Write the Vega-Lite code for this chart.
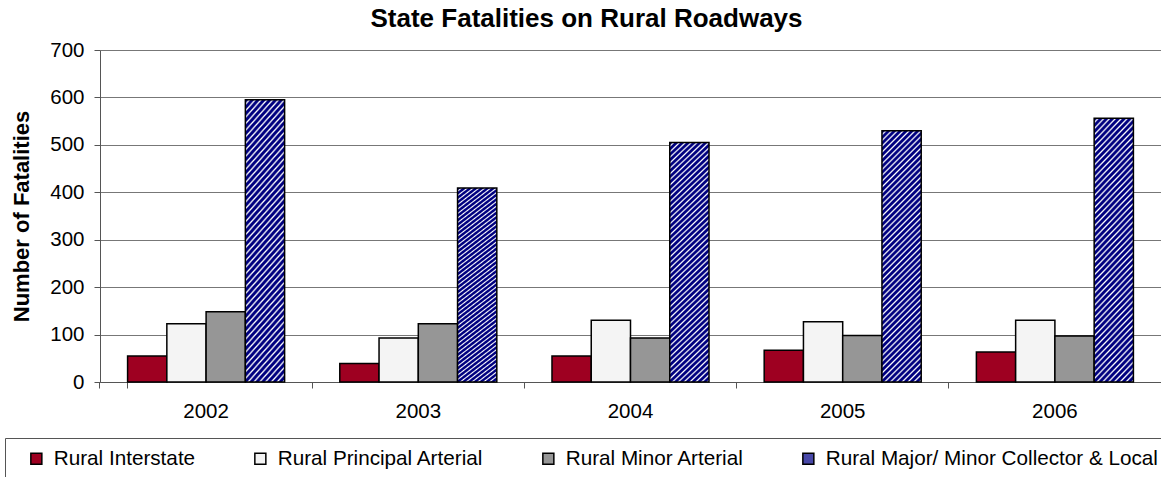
{
  "$schema": "https://vega.github.io/schema/vega-lite/v6.json",
  "width": 1061,
  "height": 332,
  "autosize": {"type": "none"},
  "padding": {"left": 100, "top": 50, "right": 0, "bottom": 95},
  "background": "white",
  "title": {"text": "State Fatalities on Rural Roadways", "font": "Liberation Sans", "fontSize": 26, "fontWeight": "bold", "color": "black", "offset": 8, "dx": -44},
  "data": {"values": [
    {"year": "2002", "type": "Rural Interstate", "value": 55},
    {"year": "2002", "type": "Rural Principal Arterial", "value": 123},
    {"year": "2002", "type": "Rural Minor Arterial", "value": 148},
    {"year": "2002", "type": "Rural Major/ Minor Collector & Local", "value": 595},
    {"year": "2003", "type": "Rural Interstate", "value": 39},
    {"year": "2003", "type": "Rural Principal Arterial", "value": 93},
    {"year": "2003", "type": "Rural Minor Arterial", "value": 123},
    {"year": "2003", "type": "Rural Major/ Minor Collector & Local", "value": 409},
    {"year": "2004", "type": "Rural Interstate", "value": 55},
    {"year": "2004", "type": "Rural Principal Arterial", "value": 130},
    {"year": "2004", "type": "Rural Minor Arterial", "value": 93},
    {"year": "2004", "type": "Rural Major/ Minor Collector & Local", "value": 505},
    {"year": "2005", "type": "Rural Interstate", "value": 67},
    {"year": "2005", "type": "Rural Principal Arterial", "value": 127},
    {"year": "2005", "type": "Rural Minor Arterial", "value": 98},
    {"year": "2005", "type": "Rural Major/ Minor Collector & Local", "value": 530},
    {"year": "2006", "type": "Rural Interstate", "value": 63},
    {"year": "2006", "type": "Rural Principal Arterial", "value": 130},
    {"year": "2006", "type": "Rural Minor Arterial", "value": 97},
    {"year": "2006", "type": "Rural Major/ Minor Collector & Local", "value": 556}
  ]},
  "mark": {"type": "bar", "stroke": "black", "strokeWidth": 1.5},
  "encoding": {
    "x": {"field": "year", "type": "nominal", "scale": {"paddingInner": 0.26, "paddingOuter": 0.13},
      "axis": {"title": null, "labelAngle": 0, "bandPosition": -0.176, "tickExtra": true, "tickSize": 6, "labelPadding": 13, "labelFontSize": 20.5, "labelFont": "Liberation Sans", "labelColor": "black", "domainColor": "#555555", "tickColor": "#555555"}},
    "xOffset": {"field": "type", "type": "nominal", "scale": {"domain": ["Rural Interstate", "Rural Principal Arterial", "Rural Minor Arterial", "Rural Major/ Minor Collector & Local"], "paddingInner": 0, "paddingOuter": 0}},
    "y": {"field": "value", "type": "quantitative", "scale": {"domain": [0, 700], "nice": false},
      "axis": {"title": "Number of Fatalities", "values": [0, 100, 200, 300, 400, 500, 600, 700], "grid": true, "gridColor": "#777777", "domainColor": "#555555", "tickColor": "#555555", "tickSize": 6, "labelPadding": 10, "labelFontSize": 20.5, "labelFont": "Liberation Sans", "labelColor": "black", "titleFont": "Liberation Sans", "titleFontSize": 22, "titleFontWeight": "bold", "titleColor": "black", "titlePadding": 16}},
    "color": {
      "field": "type", "type": "nominal",
      "condition": {"test": "datum.type === 'Rural Major/ Minor Collector & Local'", "value": {"gradient": "linear", "x1": 0, "y1": 0, "x2": 0.176, "y2": 1.129, "stops": [
        {"offset": 0, "color": "#000080"},{"offset": 0.008, "color": "#000080"},{"offset": 0.014, "color": "#ffffff"},
        {"offset": 0.02, "color": "#000080"},{"offset": 0.028, "color": "#000080"},{"offset": 0.034, "color": "#ffffff"},
        {"offset": 0.04, "color": "#000080"},{"offset": 0.048, "color": "#000080"},{"offset": 0.054, "color": "#ffffff"},
        {"offset": 0.06, "color": "#000080"},{"offset": 0.068, "color": "#000080"},{"offset": 0.074, "color": "#ffffff"},
        {"offset": 0.08, "color": "#000080"},{"offset": 0.088, "color": "#000080"},{"offset": 0.094, "color": "#ffffff"},
        {"offset": 0.1, "color": "#000080"},{"offset": 0.108, "color": "#000080"},{"offset": 0.114, "color": "#ffffff"},
        {"offset": 0.12, "color": "#000080"},{"offset": 0.128, "color": "#000080"},{"offset": 0.134, "color": "#ffffff"},
        {"offset": 0.14, "color": "#000080"},{"offset": 0.148, "color": "#000080"},{"offset": 0.154, "color": "#ffffff"},
        {"offset": 0.16, "color": "#000080"},{"offset": 0.168, "color": "#000080"},{"offset": 0.174, "color": "#ffffff"},
        {"offset": 0.18, "color": "#000080"},{"offset": 0.188, "color": "#000080"},{"offset": 0.194, "color": "#ffffff"},
        {"offset": 0.2, "color": "#000080"},{"offset": 0.208, "color": "#000080"},{"offset": 0.214, "color": "#ffffff"},
        {"offset": 0.22, "color": "#000080"},{"offset": 0.228, "color": "#000080"},{"offset": 0.234, "color": "#ffffff"},
        {"offset": 0.24, "color": "#000080"},{"offset": 0.248, "color": "#000080"},{"offset": 0.254, "color": "#ffffff"},
        {"offset": 0.26, "color": "#000080"},{"offset": 0.268, "color": "#000080"},{"offset": 0.274, "color": "#ffffff"},
        {"offset": 0.28, "color": "#000080"},{"offset": 0.288, "color": "#000080"},{"offset": 0.294, "color": "#ffffff"},
        {"offset": 0.3, "color": "#000080"},{"offset": 0.308, "color": "#000080"},{"offset": 0.314, "color": "#ffffff"},
        {"offset": 0.32, "color": "#000080"},{"offset": 0.328, "color": "#000080"},{"offset": 0.334, "color": "#ffffff"},
        {"offset": 0.34, "color": "#000080"},{"offset": 0.348, "color": "#000080"},{"offset": 0.354, "color": "#ffffff"},
        {"offset": 0.36, "color": "#000080"},{"offset": 0.368, "color": "#000080"},{"offset": 0.374, "color": "#ffffff"},
        {"offset": 0.38, "color": "#000080"},{"offset": 0.388, "color": "#000080"},{"offset": 0.394, "color": "#ffffff"},
        {"offset": 0.4, "color": "#000080"},{"offset": 0.408, "color": "#000080"},{"offset": 0.414, "color": "#ffffff"},
        {"offset": 0.42, "color": "#000080"},{"offset": 0.428, "color": "#000080"},{"offset": 0.434, "color": "#ffffff"},
        {"offset": 0.44, "color": "#000080"},{"offset": 0.448, "color": "#000080"},{"offset": 0.454, "color": "#ffffff"},
        {"offset": 0.46, "color": "#000080"},{"offset": 0.468, "color": "#000080"},{"offset": 0.474, "color": "#ffffff"},
        {"offset": 0.48, "color": "#000080"},{"offset": 0.488, "color": "#000080"},{"offset": 0.494, "color": "#ffffff"},
        {"offset": 0.5, "color": "#000080"},{"offset": 0.508, "color": "#000080"},{"offset": 0.514, "color": "#ffffff"},
        {"offset": 0.52, "color": "#000080"},{"offset": 0.528, "color": "#000080"},{"offset": 0.534, "color": "#ffffff"},
        {"offset": 0.54, "color": "#000080"},{"offset": 0.548, "color": "#000080"},{"offset": 0.554, "color": "#ffffff"},
        {"offset": 0.56, "color": "#000080"},{"offset": 0.568, "color": "#000080"},{"offset": 0.574, "color": "#ffffff"},
        {"offset": 0.58, "color": "#000080"},{"offset": 0.588, "color": "#000080"},{"offset": 0.594, "color": "#ffffff"},
        {"offset": 0.6, "color": "#000080"},{"offset": 0.608, "color": "#000080"},{"offset": 0.614, "color": "#ffffff"},
        {"offset": 0.62, "color": "#000080"},{"offset": 0.628, "color": "#000080"},{"offset": 0.634, "color": "#ffffff"},
        {"offset": 0.64, "color": "#000080"},{"offset": 0.648, "color": "#000080"},{"offset": 0.654, "color": "#ffffff"},
        {"offset": 0.66, "color": "#000080"},{"offset": 0.668, "color": "#000080"},{"offset": 0.674, "color": "#ffffff"},
        {"offset": 0.68, "color": "#000080"},{"offset": 0.688, "color": "#000080"},{"offset": 0.694, "color": "#ffffff"},
        {"offset": 0.7, "color": "#000080"},{"offset": 0.708, "color": "#000080"},{"offset": 0.714, "color": "#ffffff"},
        {"offset": 0.72, "color": "#000080"},{"offset": 0.728, "color": "#000080"},{"offset": 0.734, "color": "#ffffff"},
        {"offset": 0.74, "color": "#000080"},{"offset": 0.748, "color": "#000080"},{"offset": 0.754, "color": "#ffffff"},
        {"offset": 0.76, "color": "#000080"},{"offset": 0.768, "color": "#000080"},{"offset": 0.774, "color": "#ffffff"},
        {"offset": 0.78, "color": "#000080"},{"offset": 0.788, "color": "#000080"},{"offset": 0.794, "color": "#ffffff"},
        {"offset": 0.8, "color": "#000080"},{"offset": 0.808, "color": "#000080"},{"offset": 0.814, "color": "#ffffff"},
        {"offset": 0.82, "color": "#000080"},{"offset": 0.828, "color": "#000080"},{"offset": 0.834, "color": "#ffffff"},
        {"offset": 0.84, "color": "#000080"},{"offset": 0.848, "color": "#000080"},{"offset": 0.854, "color": "#ffffff"},
        {"offset": 0.86, "color": "#000080"},{"offset": 0.868, "color": "#000080"},{"offset": 0.874, "color": "#ffffff"},
        {"offset": 0.88, "color": "#000080"},{"offset": 0.888, "color": "#000080"},{"offset": 0.894, "color": "#ffffff"},
        {"offset": 0.9, "color": "#000080"},{"offset": 0.908, "color": "#000080"},{"offset": 0.914, "color": "#ffffff"},
        {"offset": 0.92, "color": "#000080"},{"offset": 0.928, "color": "#000080"},{"offset": 0.934, "color": "#ffffff"},
        {"offset": 0.94, "color": "#000080"},{"offset": 0.948, "color": "#000080"},{"offset": 0.954, "color": "#ffffff"},
        {"offset": 0.96, "color": "#000080"},{"offset": 0.968, "color": "#000080"},{"offset": 0.974, "color": "#ffffff"},
        {"offset": 0.98, "color": "#000080"},{"offset": 0.988, "color": "#000080"},{"offset": 0.994, "color": "#ffffff"},
        {"offset": 1, "color": "#000080"}
      ]}},
      "scale": {"domain": ["Rural Interstate", "Rural Principal Arterial", "Rural Minor Arterial", "Rural Major/ Minor Collector & Local"], "range": ["#9e0021", "#f4f4f4", "#969696", "#4848a8"]},
      "legend": {
        "orient": "none", "legendX": -95, "legendY": 388, "direction": "horizontal",
        "title": "\u00a0", "titleOrient": "left", "titlePadding": 11, "titleFontSize": 19,
        "strokeColor": "#555555", "padding": 10, "columnPadding": 54,
        "symbolType": "square", "symbolSize": 121, "symbolStrokeColor": "black", "symbolStrokeWidth": 1.5,
        "labelFont": "Liberation Sans", "labelFontSize": 20.7, "labelColor": "black", "labelOffset": 7, "labelLimit": 500
      }
    }
  },
  "config": {"view": {"stroke": null}, "font": "Liberation Sans"}
}
